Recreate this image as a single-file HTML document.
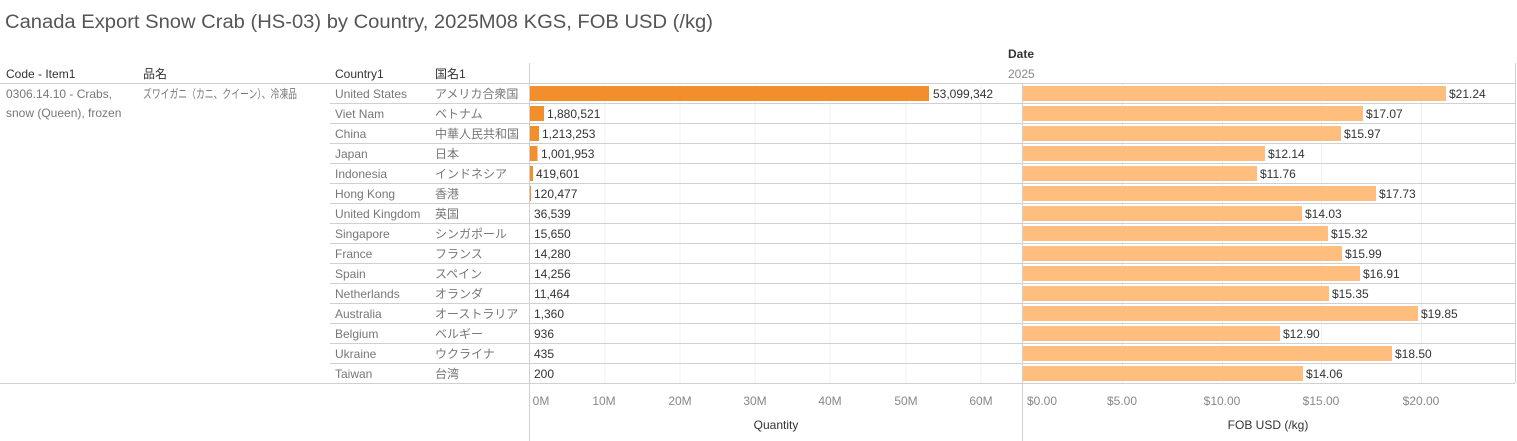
<!DOCTYPE html><html><head><meta charset="utf-8"><style>
body{margin:0;background:#fff;}
svg{display:block;font-family:"Liberation Sans","Noto Sans CJK JP",sans-serif;}
</style></head><body>
<svg width="1517" height="441" xmlns="http://www.w3.org/2000/svg">
<text x="5" y="28" font-size="19" fill="#555" textLength="708" lengthAdjust="spacingAndGlyphs">Canada Export Snow Crab (HS-03) by Country, 2025M08 KGS, FOB USD (/kg)</text>
<text x="1008" y="58" font-size="12" fill="#333" font-weight="bold">Date</text>
<text x="1008" y="78" font-size="12" fill="#888">2025</text>
<g font-size="12" fill="#333">
<text x="6" y="78">Code - Item1</text><text x="143" y="78">品名</text>
<text x="335" y="78">Country1</text><text x="435" y="78">国名1</text>
</g>
<g stroke="#f0f0f0" stroke-width="1">
<line x1="605" y1="83" x2="605" y2="383"/><line x1="680" y1="83" x2="680" y2="383"/><line x1="755" y1="83" x2="755" y2="383"/><line x1="830" y1="83" x2="830" y2="383"/><line x1="906" y1="83" x2="906" y2="383"/><line x1="981" y1="83" x2="981" y2="383"/>
<line x1="1122.5" y1="83" x2="1122.5" y2="383"/><line x1="1222.5" y1="83" x2="1222.5" y2="383"/><line x1="1321.5" y1="83" x2="1321.5" y2="383"/><line x1="1421.5" y1="83" x2="1421.5" y2="383"/>
</g>
<g stroke="#d0d0d0" stroke-width="1">
<line x1="0" y1="83.5" x2="1515" y2="83.5"/>
<line x1="330" y1="103.5" x2="1515" y2="103.5"/><line x1="330" y1="123.5" x2="1515" y2="123.5"/><line x1="330" y1="143.5" x2="1515" y2="143.5"/><line x1="330" y1="163.5" x2="1515" y2="163.5"/><line x1="330" y1="183.5" x2="1515" y2="183.5"/><line x1="330" y1="203.5" x2="1515" y2="203.5"/><line x1="330" y1="223.5" x2="1515" y2="223.5"/><line x1="330" y1="243.5" x2="1515" y2="243.5"/><line x1="330" y1="263.5" x2="1515" y2="263.5"/><line x1="330" y1="283.5" x2="1515" y2="283.5"/><line x1="330" y1="303.5" x2="1515" y2="303.5"/><line x1="330" y1="323.5" x2="1515" y2="323.5"/><line x1="330" y1="343.5" x2="1515" y2="343.5"/><line x1="330" y1="363.5" x2="1515" y2="363.5"/>
<line x1="0" y1="383.5" x2="1515" y2="383.5"/>
<line x1="529.5" y1="63" x2="529.5" y2="441"/>
<line x1="1022.5" y1="83" x2="1022.5" y2="441"/>
<line x1="1515.5" y1="63" x2="1515.5" y2="383"/>
</g>
<g font-size="12" fill="#777">
<text x="6" y="98">0306.14.10 - Crabs,</text><text x="6" y="117">snow (Queen), frozen</text>
<text x="143" y="98" textLength="154" lengthAdjust="spacingAndGlyphs">ズワイガニ（カニ、クイーン）、冷凍品</text>
</g>
<g font-size="12" fill="#777">
<text x="335" y="98">United States</text><text x="435" y="98">アメリカ合衆国</text>
<text x="335" y="118">Viet Nam</text><text x="435" y="118">ベトナム</text>
<text x="335" y="138">China</text><text x="435" y="138">中華人民共和国</text>
<text x="335" y="158">Japan</text><text x="435" y="158">日本</text>
<text x="335" y="178">Indonesia</text><text x="435" y="178">インドネシア</text>
<text x="335" y="198">Hong Kong</text><text x="435" y="198">香港</text>
<text x="335" y="218">United Kingdom</text><text x="435" y="218">英国</text>
<text x="335" y="238">Singapore</text><text x="435" y="238">シンガポール</text>
<text x="335" y="258">France</text><text x="435" y="258">フランス</text>
<text x="335" y="278">Spain</text><text x="435" y="278">スペイン</text>
<text x="335" y="298">Netherlands</text><text x="435" y="298">オランダ</text>
<text x="335" y="318">Australia</text><text x="435" y="318">オーストラリア</text>
<text x="335" y="338">Belgium</text><text x="435" y="338">ベルギー</text>
<text x="335" y="358">Ukraine</text><text x="435" y="358">ウクライナ</text>
<text x="335" y="378">Taiwan</text><text x="435" y="378">台湾</text>
</g>
<g fill="#f28e2b">
<rect x="530" y="86" width="399" height="15"/><rect x="530" y="106" width="14" height="15"/><rect x="530" y="126" width="9" height="15"/><rect x="530" y="146" width="7.5" height="15"/><rect x="530" y="166" width="3" height="15"/><rect x="530" y="186" width="1" height="15"/>
</g>
<g font-size="12" fill="#333">
<text x="933" y="98">53,099,342</text><text x="547" y="118">1,880,521</text><text x="542" y="138">1,213,253</text><text x="541" y="158">1,001,953</text><text x="536" y="178">419,601</text>
<text x="534" y="198">120,477</text><text x="534" y="218">36,539</text><text x="534" y="238">15,650</text><text x="534" y="258">14,280</text><text x="534" y="278">14,256</text><text x="534" y="298">11,464</text><text x="534" y="318">1,360</text><text x="534" y="338">936</text><text x="534" y="358">435</text><text x="534" y="378">200</text>
</g>
<g fill="#ffbe7d">
<rect x="1023" y="86" width="423" height="15"/><rect x="1023" y="106" width="340" height="15"/><rect x="1023" y="126" width="318" height="15"/><rect x="1023" y="146" width="242" height="15"/><rect x="1023" y="166" width="234" height="15"/><rect x="1023" y="186" width="353" height="15"/><rect x="1023" y="206" width="279" height="15"/><rect x="1023" y="226" width="305" height="15"/><rect x="1023" y="246" width="319" height="15"/><rect x="1023" y="266" width="337" height="15"/><rect x="1023" y="286" width="306" height="15"/><rect x="1023" y="306" width="395" height="15"/><rect x="1023" y="326" width="257" height="15"/><rect x="1023" y="346" width="369" height="15"/><rect x="1023" y="366" width="280" height="15"/>
</g>
<g font-size="12" fill="#333">
<text x="1449" y="98">$21.24</text><text x="1366" y="118">$17.07</text><text x="1344" y="138">$15.97</text><text x="1268" y="158">$12.14</text><text x="1260" y="178">$11.76</text><text x="1379" y="198">$17.73</text><text x="1305" y="218">$14.03</text><text x="1331" y="238">$15.32</text><text x="1345" y="258">$15.99</text><text x="1363" y="278">$16.91</text><text x="1332" y="298">$15.35</text><text x="1421" y="318">$19.85</text><text x="1283" y="338">$12.90</text><text x="1395" y="358">$18.50</text><text x="1306" y="378">$14.06</text>
</g>
<g font-size="12" fill="#888" text-anchor="middle">
<text x="541" y="405">0M</text><text x="604" y="405">10M</text><text x="680" y="405">20M</text><text x="755" y="405">30M</text><text x="830" y="405">40M</text><text x="906" y="405">50M</text><text x="981" y="405">60M</text>
<text x="1042" y="405">$0.00</text><text x="1122" y="405">$5.00</text><text x="1222" y="405">$10.00</text><text x="1321" y="405">$15.00</text><text x="1421" y="405">$20.00</text>
</g>
<g font-size="12" fill="#333" text-anchor="middle">
<text x="776" y="429">Quantity</text><text x="1268" y="429">FOB USD (/kg)</text>
</g>
</svg>
</body></html>
